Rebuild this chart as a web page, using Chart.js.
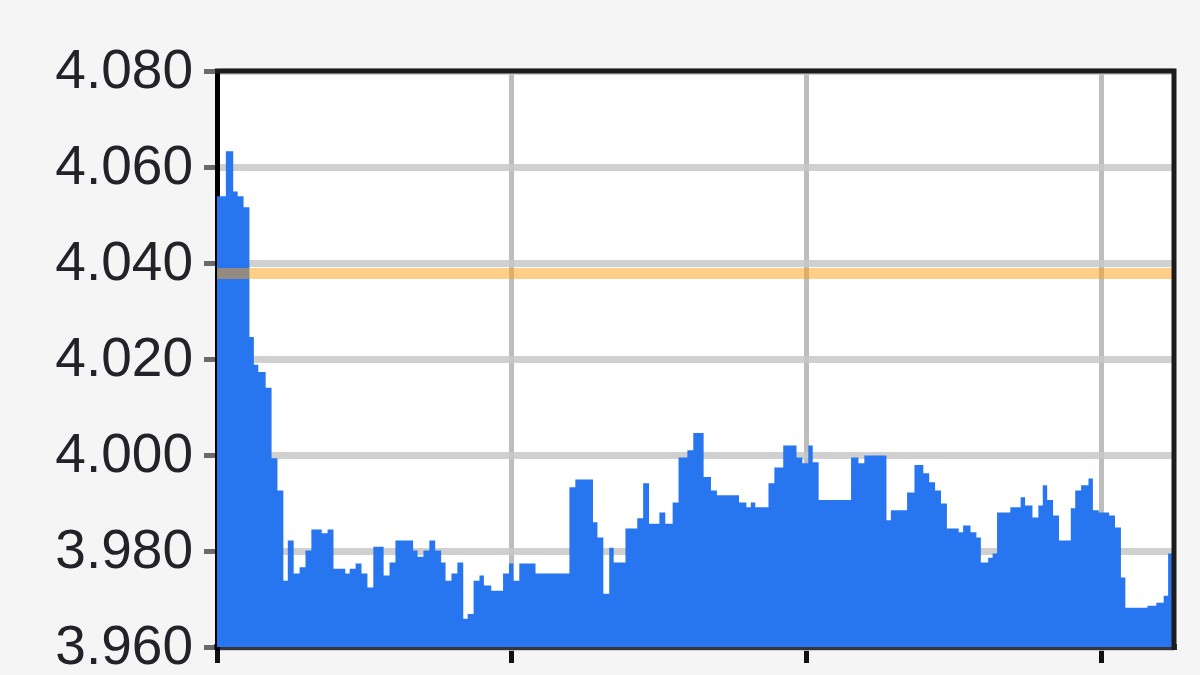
<!DOCTYPE html>
<html>
<head>
<meta charset="utf-8">
<script src="https://cdn.jsdelivr.net/npm/chart.js@4/dist/chart.umd.min.js"></script>
<style>
  body { margin: 0; background: #f5f5f5; }
  canvas { display: block; }
</style>
</head>
<body>
<canvas id="priceChart" width="1200" height="675"></canvas>
<script>
// start of each step (time units) and the price held until the next step
const times = [0, 3, 5.5, 7, 9, 11, 12.5, 14, 16.5, 18.5, 20.5, 22.5, 24, 26, 28, 30, 32, 35.5, 37.5, 39.5,
    43.5, 45, 47, 49, 51, 53, 56.5, 58.5, 60.5, 66.5, 68, 70, 72, 74, 76, 77.5, 79.5, 81.5, 83.5, 85,
    87, 89, 90.5, 93, 97, 99, 100.5, 102.5, 108, 119.5, 121.5, 127.5, 129, 131, 133, 134.5, 138.5, 142.5, 144.5, 146.5,
    150, 152, 154.5, 156.5, 159.5, 161.5, 165, 167.5, 169.5, 177, 179.5, 181, 182.5, 187, 189, 192, 196.5, 198.5, 200.5, 202,
    204, 215, 217.5, 219.5, 227, 228.5, 234, 236.5, 239.5, 241.5, 243.5, 245.5, 247.5, 251.5, 253, 255.5, 257.5, 259, 261.5, 263,
    264.5, 269, 272.5, 274, 276.5, 278.5, 280, 281.5, 283.5, 285.5, 289.5, 291, 293, 295.5, 297, 299, 302.5, 304.5, 306.5, 308,
    315.5, 318.5, 321, 322.5, 324.5]

const prices = [4.0539, 4.0633, 4.0549, 4.0539, 4.0516, 4.0246, 4.0188, 4.0173, 4.0140, 3.9993, 3.9926, 3.9738, 3.9822, 3.9753, 3.9766, 3.9801, 3.9845, 3.9837, 3.9845, 3.9763,
    3.9753, 3.9763, 3.9774, 3.9753, 3.9724, 3.9809, 3.9749, 3.9776, 3.9822, 3.9801, 3.9788, 3.9801, 3.9822, 3.9801, 3.9776, 3.9738, 3.9753, 3.9776, 3.9659, 3.9669,
    3.9738, 3.9749, 3.9728, 3.9717, 3.9753, 3.9774, 3.9738, 3.9774, 3.9753, 3.9933, 3.9949, 3.9860, 3.9828, 3.9711, 3.9807, 3.9776, 3.9847, 3.9868, 3.9941, 3.9857,
    3.9880, 3.9857, 3.9901, 3.9995, 4.0010, 4.0046, 3.9954, 3.9926, 3.9916, 3.9901, 3.9891, 3.9901, 3.9891, 3.9941, 3.9974, 4.0020, 3.9995, 3.9983, 4.0020, 3.9985,
    3.9906, 3.9995, 3.9983, 3.9999, 3.9864, 3.9885, 3.9922, 3.9979, 3.9962, 3.9943, 3.9926, 3.9899, 3.9847, 3.9839, 3.9853, 3.9839, 3.9828, 3.9776, 3.9786, 3.9795,
    3.9880, 3.9891, 3.9912, 3.9895, 3.9870, 3.9895, 3.9937, 3.9906, 3.9874, 3.9822, 3.9889, 3.9926, 3.9937, 3.9951, 3.9885, 3.9880, 3.9874, 3.9849, 3.9745, 3.9682,
    3.9686, 3.9692, 3.9707, 3.9795, 3.9795]

const priceTicks = [3.960, 3.980, 4.000, 4.020, 4.040, 4.060, 4.080]
const timeTicks = [0, 100, 200, 300]
const refLevel = 4.0378

var series = times.map((t, i) => ({ x: t, y: prices[i] }))
var refLine = [{ x: times[0], y: refLevel }, { x: times[times.length - 1], y: refLevel }]

// grey page, white plot, border on top and right
const frame = {
    id: 'frame',
    beforeDraw(chart) {
        const ctx = chart.ctx
        const a = chart.chartArea
        ctx.save()
        ctx.fillStyle = '#f5f5f5'
        ctx.fillRect(0, 0, chart.width, chart.height)
        ctx.fillStyle = '#ffffff'
        ctx.fillRect(a.left, a.top, a.right - a.left, a.bottom - a.top)
        ctx.restore()
    },
    afterDraw(chart) {
        const ctx = chart.ctx
        const a = chart.chartArea
        ctx.save()
        ctx.lineWidth = 5
        ctx.strokeStyle = '#1c1c1c'
        ctx.beginPath()
        ctx.moveTo(a.left - 2, a.top)
        ctx.lineTo(a.right, a.top)
        ctx.lineTo(a.right, a.bottom + 3)
        ctx.stroke()
        ctx.restore()
    }
}

var ctx = document.getElementById('priceChart').getContext('2d')
var myChart = new Chart(ctx, {
    type: 'line',
    data: {
        datasets: [{
            data: refLine,
            borderColor: 'rgba(255, 160, 20, 0.5)',
            borderWidth: 11,
            pointRadius: 0,
            fill: false
        }, {
            data: series,
            stepped: true,
            borderWidth: 0,
            borderColor: '#2775ef',
            backgroundColor: '#2775ef',
            pointRadius: 0,
            fill: 'start'
        }]
    },
    options: {
        responsive: false,
        animation: false,
        layout: { padding: { top: 71, right: 26, left: 0, bottom: 0 } },
        plugins: { legend: { display: false }, tooltip: { enabled: false } },
        scales: {
            x: {
                type: 'linear',
                min: 0,
                max: 324.5,
                afterBuildTicks: scale => { scale.ticks = timeTicks.map(v => ({ value: v })) },
                afterFit: scale => { scale.height = 28 },
                ticks: { display: false },
                grid: { color: '#bdbdbd', lineWidth: 5, tickLength: 16, tickColor: '#111', tickWidth: 5 },
                border: { color: 'rgba(35, 35, 45, 0.9)', width: 6 }
            },
            y: {
                min: 3.96,
                max: 4.08,
                afterBuildTicks: scale => { scale.ticks = priceTicks.map(v => ({ value: v })) },
                afterFit: scale => { scale.width = 217; scale.paddingTop = 0; scale.paddingBottom = 0 },
                ticks: {
                    padding: 11,
                    labelOffset: 2,
                    color: '#222228',
                    font: { family: "'Liberation Sans', Arial, sans-serif", size: 55 },
                    callback: v => v.toFixed(3)
                },
                grid: { color: 'rgba(200, 200, 200, 0.85)', lineWidth: 7, tickLength: 13, tickColor: '#6a6a6a', tickWidth: 5 },
                border: { color: '#000', width: 5 }
            }
        }
    },
    plugins: [frame]
})
</script>
</body>
</html>
